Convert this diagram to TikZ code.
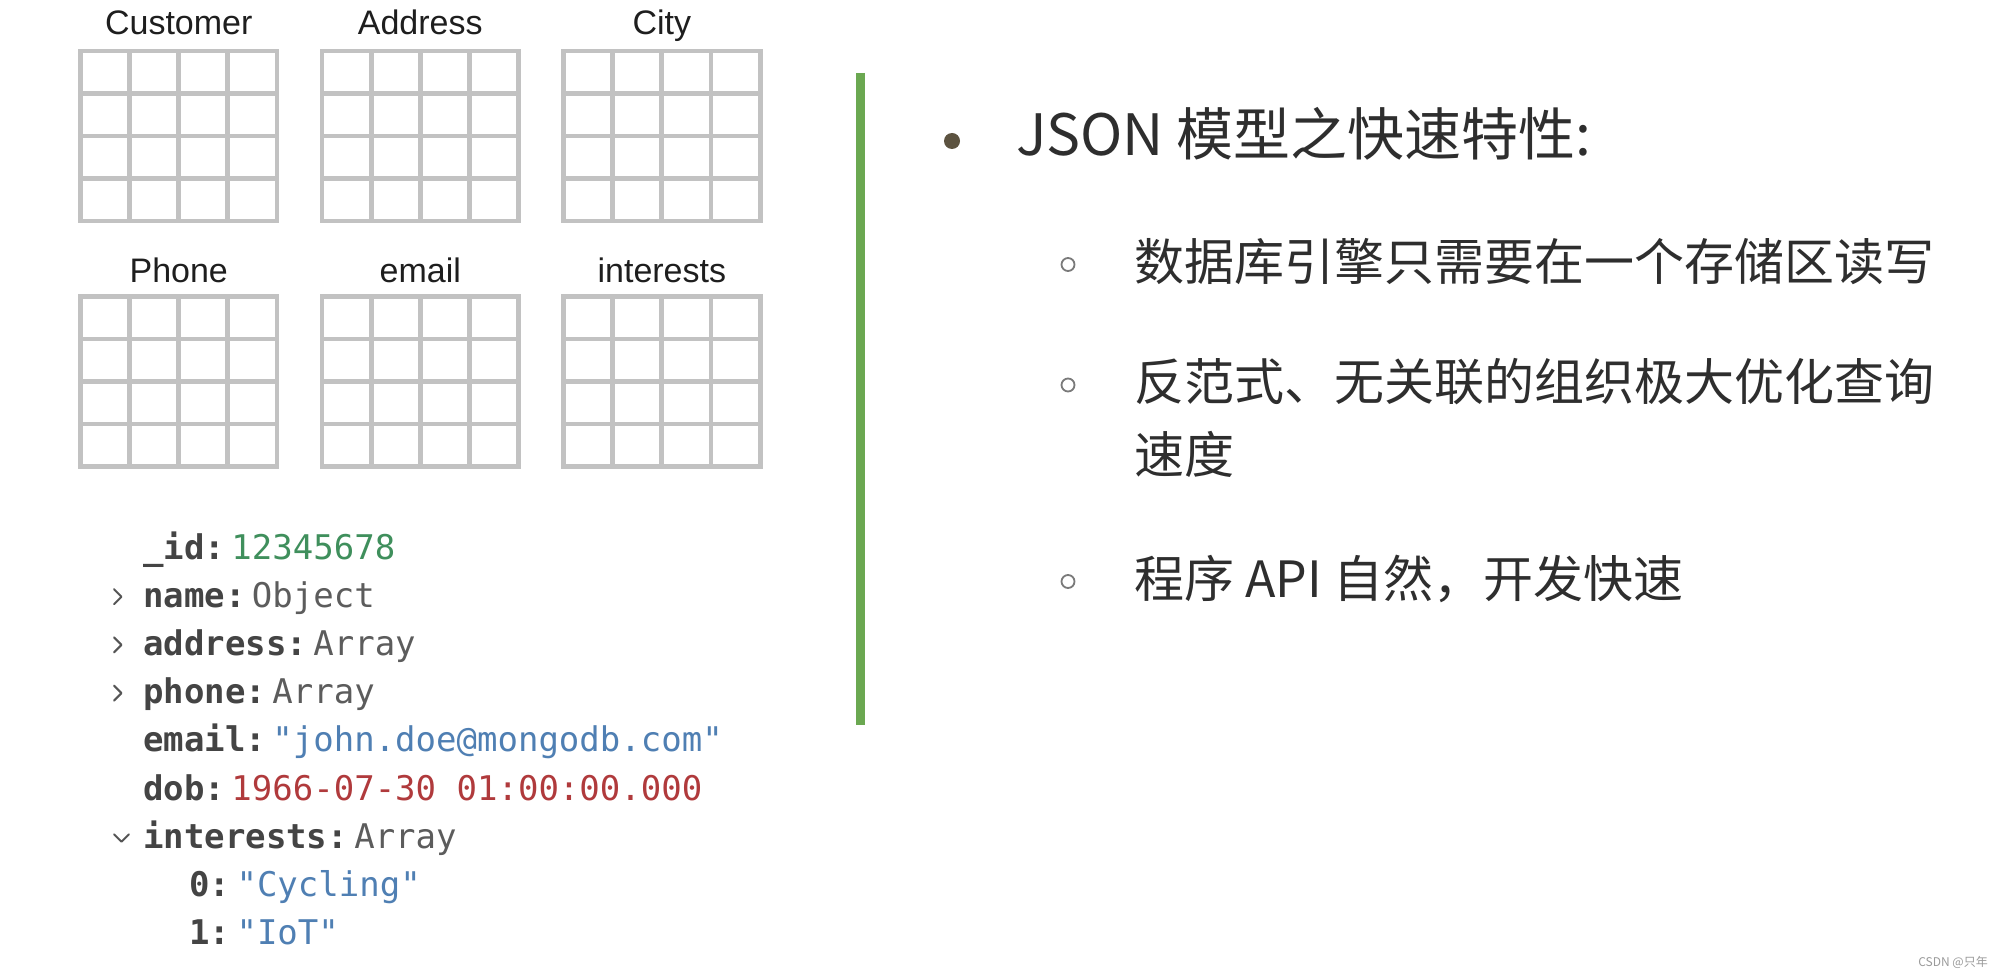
\documentclass[tikz,border=0pt]{standalone}
\usepackage{fontspec}
\setmainfont{Liberation Sans}
\newfontfamily\cjkfont{Noto Sans CJK SC}
\newfontfamily\codefont{DejaVu Sans Mono}
\definecolor{gridgray}{HTML}{C2C2C2}
\definecolor{labelcol}{HTML}{1E1E1E}
\definecolor{keycol}{HTML}{444444}
\definecolor{typecol}{HTML}{5C5C5C}
\definecolor{numcol}{HTML}{3F8F5C}
\definecolor{strcol}{HTML}{4F7FB3}
\definecolor{datecol}{HTML}{B03A3C}
\definecolor{chevcol}{HTML}{555555}
\definecolor{barcol}{HTML}{6BA851}
\definecolor{txtcol}{HTML}{2E2E2E}
\definecolor{dotcol}{HTML}{5C5340}
\definecolor{ringcol}{HTML}{7A7A7A}
\definecolor{wmcol}{HTML}{9A9A9A}
\begin{document}
\begin{tikzpicture}[x=1pt,y=-1pt,
  gridline/.style={draw=gridgray, line width=4.8pt},
  tlabel/.style={font=\fontsize{34}{40}\selectfont, text=labelcol, inner sep=0pt, anchor=base},
  keytxt/.style={font=\codefont\bfseries\fontsize{34}{40}\selectfont, text=keycol, inner sep=0pt, anchor=base west},
  valtxt/.style={font=\codefont\fontsize{34}{40}\selectfont, inner sep=0pt, anchor=base west, xshift=6pt},
  chev/.style={draw=chevcol, line width=2pt, line cap=round, line join=round},
  titletxt/.style={font=\cjkfont\fontsize{57}{68}\selectfont, text=txtcol, inner sep=0pt, anchor=base west},
  subtxt/.style={font=\cjkfont\fontsize{50}{60}\selectfont, text=txtcol, inner sep=0pt, anchor=base west},
  ring/.style={draw=ringcol, line width=1.8pt}
]
\fill[white] (0,0) rectangle (2004,976);
\useasboundingbox (0,0) rectangle (2004,976);

% ---- table grids ----
\foreach \gx/\gy in {80.5/51, 322/51, 563.6/51, 80.5/296.5, 322/296.5, 563.6/296.5}{
  \draw[gridline] (\gx,\gy) rectangle ++(196.5,170);
  \foreach \k in {1,2,3}{
    \draw[gridline] (\gx+\k*49.125,\gy) -- ++(0,170);
    \draw[gridline] (\gx,\gy+\k*42.5) -- ++(196.5,0);
  }
}
\node[tlabel] (lcust) at (178.75,35) {Customer};
\node[tlabel] (laddr) at (420.25,35) {Address};
\node[tlabel] (lcity) at (661.85,35) {City};
\node[tlabel] (lphone) at (178.75,283) {Phone};
\node[tlabel] (lemail) at (420.25,283) {email};
\node[tlabel] (linter) at (661.85,283) {interests};

% ---- document view ----
\node[keytxt] (kid) at (143,559) {\_id:};
\node[valtxt, text=numcol] (vid) at (kid.base east) {12345678};
\node[keytxt] (kname) at (143,607.2) {name:};
\node[valtxt, text=typecol] (vname) at (kname.base east) {Object};
\node[keytxt] (kaddr) at (143,655.4) {address:};
\node[valtxt, text=typecol] (vaddr) at (kaddr.base east) {Array};
\node[keytxt] (kphone) at (143,703.6) {phone:};
\node[valtxt, text=typecol] (vphone) at (kphone.base east) {Array};
\node[keytxt] (kemail) at (143,751.8) {email:};
\node[valtxt, text=strcol] (vemail) at (kemail.base east) {"john.doe@mongodb.com"};
\node[keytxt] (kdob) at (143,800) {dob:};
\node[valtxt, text=datecol] (vdob) at (kdob.base east) {1966-07-30 01:00:00.000};
\node[keytxt] (kint) at (143,848.2) {interests:};
\node[valtxt, text=typecol] (vint) at (kint.base east) {Array};
\node[keytxt] (k0) at (189,896.4) {0:};
\node[valtxt, text=strcol] (v0) at (k0.base east) {"Cycling"};
\node[keytxt] (k1) at (189,944.6) {1:};
\node[valtxt, text=strcol] (v1) at (k1.base east) {"IoT"};

% chevrons
\draw[chev] (114,607.2-18) -- (121.5,607.2-10.5) -- (114,607.2-3);
\draw[chev] (114,655.4-18) -- (121.5,655.4-10.5) -- (114,655.4-3);
\draw[chev] (114,703.6-18) -- (121.5,703.6-10.5) -- (114,703.6-3);
\draw[chev] (114,848.2-14) -- (121.5,848.2-6.5) -- (129,848.2-14);

% ---- divider ----
\draw[draw=barcol, line width=9pt] (860,73) -- (860,725);

% ---- bullet list ----
\fill[dotcol] (952,141) circle (8);
\node[titletxt] (title) at (1016,155.5) {JSON 模型之快速特性:};
\draw[ring] (1068,264.5) circle (6.5);
\node[subtxt] (s1) at (1134,280) {数据库引擎只需要在一个存储区读写};
\draw[ring] (1068,385) circle (6.5);
\node[subtxt] (s2) at (1134,400) {反范式、无关联的组织极大优化查询};
\node[subtxt] (s2b) at (1134,473) {速度};
\draw[ring] (1068,581.5) circle (6.5);
\node[subtxt] (s3) at (1134,597) {程序 API 自然，开发快速};

% watermark
\node[font=\cjkfont\fontsize{12}{14}\selectfont, text=wmcol, inner sep=0pt, anchor=base east] (wm) at (1988,966) {CSDN @只年};
\end{tikzpicture}
\end{document}
